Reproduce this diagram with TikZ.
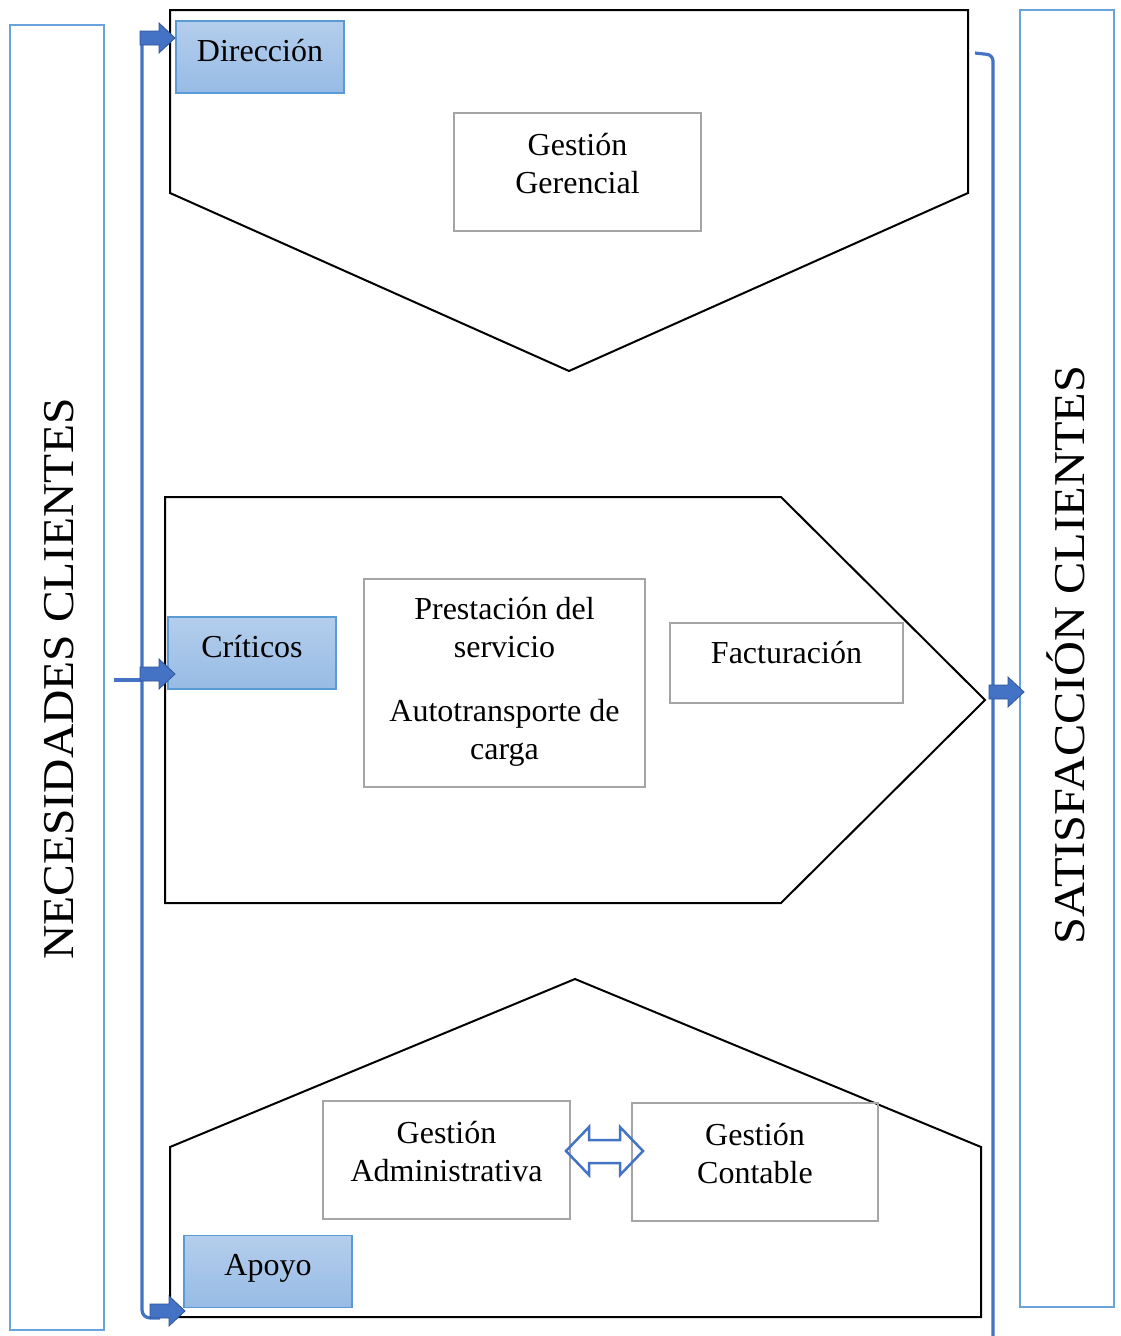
\documentclass[tikz,border=0pt]{standalone}
\usepackage{fontspec}
\setmainfont{Liberation Serif}
\definecolor{dkblue}{HTML}{4472C4}
\definecolor{edgeblue}{HTML}{2F5597}
\definecolor{ltblue}{HTML}{5B9BD5}
\definecolor{sideblue}{HTML}{6AA3DC}
\definecolor{boxgray}{HTML}{A5A5A5}
\definecolor{gradtop}{HTML}{B4CEEC}
\definecolor{gradbot}{HTML}{97BBE5}
\begin{document}
\begin{tikzpicture}[x=1pt,y=-1pt,
  lbl/.style={font=\fontsize{32}{38}\selectfont, inner sep=0pt},
  bigtxt/.style={font=\fontsize{44}{50}\selectfont, inner sep=0pt},
  catbox/.style={draw=ltblue, line width=1.3pt, top color=gradtop, bottom color=gradbot, minimum width=168pt, minimum height=72pt, inner sep=0pt},
  graybox/.style={draw=boxgray, line width=2.5pt, inner sep=0pt},
  sidebox/.style={draw=sideblue, line width=2.5pt, inner sep=0pt, minimum width=94pt},
  pent/.style={draw=black, line width=2pt, line join=miter},
  spine/.style={draw=dkblue, line width=3.2pt},
  blockarr/.style={fill=dkblue, draw=edgeblue, line width=0.8pt, line join=miter},
  dblarr/.style={draw=dkblue, line width=2.5pt, line join=miter},
  pics/barr/.style={code={\draw[blockarr] (0,-7) -- (19,-7) -- (19,-15) -- (35,0) -- (19,15) -- (19,7) -- (0,7) -- cycle;}}
]
\useasboundingbox (0,0) rectangle (1120,1336);
\fill[white] (0,0) rectangle (1120,1336);

% side boxes
\node[sidebox, minimum height=1305pt] (needbox) at (57,677.5) {};
\node[bigtxt, rotate=90, xscale=1.08, anchor=base] (needtxt) at (73,679) {NECESIDADES CLIENTES};
\node[sidebox, minimum height=1297pt] (satbox) at (1067,658.5) {};
\node[bigtxt, rotate=90, xscale=1.1, anchor=base] (sattxt) at (1084,655) {SATISFACCIÓN CLIENTES};

% process shapes
\draw[pent] (170,10) -- (968,10) -- (968,193) -- (569,371) -- (170,193) -- cycle;
\draw[pent] (165,497) -- (781,497) -- (985,700) -- (781,903) -- (165,903) -- cycle;
\draw[pent] (575,979) -- (981,1147) -- (981,1317) -- (170,1317) -- (170,1147) -- cycle;

% spines
\coordinate (ltop) at (142,38);
\coordinate (lbend) at (142,1318);
\coordinate (lend) at (160,1318);
\draw[spine, rounded corners=8pt] (ltop) -- (lbend) -- (lend);
\coordinate (inL) at (114,680);
\coordinate (inR) at (142,680);
\draw[spine] (inL) -- (inR);
\coordinate (rhook) at (975,53);
\coordinate (rbend) at (993,55);
\coordinate (rbot) at (993,1336);
\draw[spine, rounded corners=6pt] (rhook) -- (rbend) -- (rbot);

% category boxes
\node[catbox] (dir) at (260,57) {};
\node[lbl, anchor=base] (dirtxt) at (260,61) {Dirección};
\node[catbox] (crit) at (252,653) {};
\node[lbl, anchor=base] (crittxt) at (252,657) {Críticos};
\node[catbox] (apoyo) at (268,1271.5) {};
\node[lbl, anchor=base] (apoyotxt) at (268,1275) {Apoyo};

% block arrows
\pic at (140,38) {barr};
\pic at (140,674) {barr};
\pic at (150,1311) {barr};
\pic at (989,692) {barr};

% gray boxes
\node[graybox, minimum width=247pt, minimum height=118pt] (ger) at (577.5,172) {};
\node[lbl, align=center, anchor=base] (gertxt) at (577.5,193) {Gestión\\Gerencial};
\node[graybox, minimum width=281pt, minimum height=208pt] (prest) at (504.5,683) {};
\node[lbl, align=center, anchor=base] (presttxt) at (504.5,759) {Prestación del\\servicio\\[26pt]Autotransporte de\\carga};
\node[graybox, minimum width=233pt, minimum height=80pt] (fact) at (786.5,663) {};
\node[lbl, anchor=base] (facttxt) at (786.5,663) {Facturación};
\node[graybox, minimum width=247pt, minimum height=118pt] (adm) at (446.5,1160) {};
\node[lbl, align=center, anchor=base] (admtxt) at (446.5,1181) {Gestión\\Administrativa};
\node[graybox, minimum width=246pt, minimum height=118pt] (cont) at (755,1162) {};
\node[lbl, align=center, anchor=base] (conttxt) at (755,1183) {Gestión\\Contable};

% double arrow
\draw[dblarr] (566,1151) -- (589,1127) -- (589,1140) -- (620,1140) -- (620,1127) -- (643,1151) -- (620,1175) -- (620,1163) -- (589,1163) -- (589,1175) -- cycle;
\end{tikzpicture}
\end{document}
